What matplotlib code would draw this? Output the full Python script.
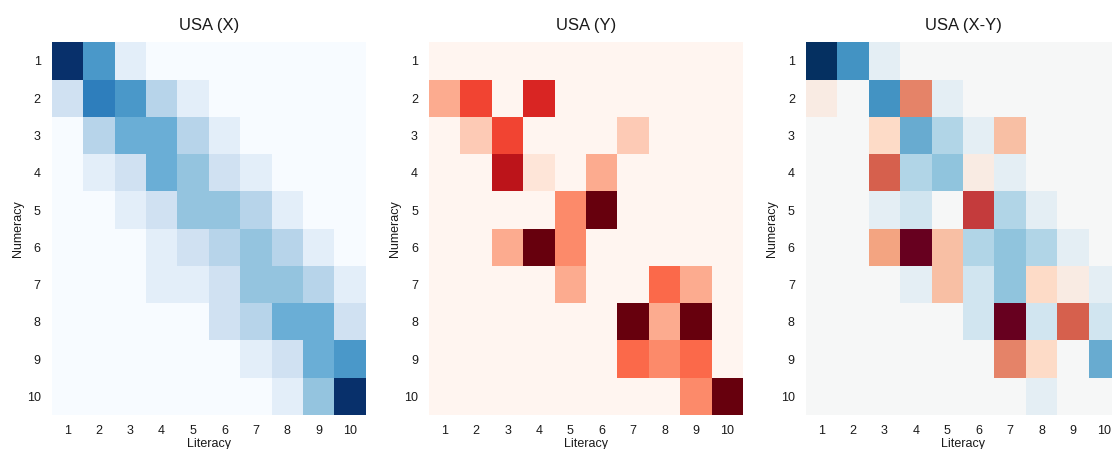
import numpy as np
import matplotlib
matplotlib.use("Agg")
import matplotlib.pyplot as plt

plt.rcParams['font.family'] = ['Liberation Sans', 'DejaVu Sans']

labels = [str(i) for i in range(1, 11)]

usa_x = np.array([
    [1.0, 0.6, 0.1, 0.0, 0.0, 0.0, 0.0, 0.0, 0.0, 0.0],
    [0.2, 0.7, 0.6, 0.3, 0.1, 0.0, 0.0, 0.0, 0.0, 0.0],
    [0.0, 0.3, 0.5, 0.5, 0.3, 0.1, 0.0, 0.0, 0.0, 0.0],
    [0.0, 0.1, 0.2, 0.5, 0.4, 0.2, 0.1, 0.0, 0.0, 0.0],
    [0.0, 0.0, 0.1, 0.2, 0.4, 0.4, 0.3, 0.1, 0.0, 0.0],
    [0.0, 0.0, 0.0, 0.1, 0.2, 0.3, 0.4, 0.3, 0.1, 0.0],
    [0.0, 0.0, 0.0, 0.1, 0.1, 0.2, 0.4, 0.4, 0.3, 0.1],
    [0.0, 0.0, 0.0, 0.0, 0.0, 0.2, 0.3, 0.5, 0.5, 0.2],
    [0.0, 0.0, 0.0, 0.0, 0.0, 0.0, 0.1, 0.2, 0.5, 0.6],
    [0.0, 0.0, 0.0, 0.0, 0.0, 0.0, 0.0, 0.1, 0.4, 1.0],
])

usa_y = np.array([
    [0.0, 0.0, 0.0, 0.0, 0.0, 0.0, 0.0, 0.0, 0.0, 0.0],
    [0.3, 0.6, 0.0, 0.7, 0.0, 0.0, 0.0, 0.0, 0.0, 0.0],
    [0.0, 0.2, 0.6, 0.0, 0.0, 0.0, 0.2, 0.0, 0.0, 0.0],
    [0.0, 0.0, 0.8, 0.1, 0.0, 0.3, 0.0, 0.0, 0.0, 0.0],
    [0.0, 0.0, 0.0, 0.0, 0.4, 1.0, 0.0, 0.0, 0.0, 0.0],
    [0.0, 0.0, 0.3, 1.0, 0.4, 0.0, 0.0, 0.0, 0.0, 0.0],
    [0.0, 0.0, 0.0, 0.0, 0.3, 0.0, 0.0, 0.5, 0.3, 0.0],
    [0.0, 0.0, 0.0, 0.0, 0.0, 0.0, 1.0, 0.3, 1.0, 0.0],
    [0.0, 0.0, 0.0, 0.0, 0.0, 0.0, 0.5, 0.4, 0.5, 0.0],
    [0.0, 0.0, 0.0, 0.0, 0.0, 0.0, 0.0, 0.0, 0.4, 1.0],
])

usa_diff = np.array([
    [1.0, 0.6, 0.1, 0.0, 0.0, 0.0, 0.0, 0.0, 0.0, 0.0],
    [-0.08, 0.0, 0.6, -0.5, 0.1, 0.0, 0.0, 0.0, 0.0, 0.0],
    [0.0, 0.0, -0.2, 0.5, 0.3, 0.1, -0.3, 0.0, 0.0, 0.0],
    [0.0, 0.0, -0.6, 0.3, 0.4, -0.08, 0.1, 0.0, 0.0, 0.0],
    [0.0, 0.0, 0.1, 0.2, 0.0, -0.7, 0.3, 0.1, 0.0, 0.0],
    [0.0, 0.0, -0.4, -1.0, -0.3, 0.3, 0.4, 0.3, 0.1, 0.0],
    [0.0, 0.0, 0.0, 0.1, -0.3, 0.2, 0.4, -0.2, -0.08, 0.1],
    [0.0, 0.0, 0.0, 0.0, 0.0, 0.2, -1.0, 0.2, -0.6, 0.2],
    [0.0, 0.0, 0.0, 0.0, 0.0, 0.0, -0.5, -0.2, 0.0, 0.5],
    [0.0, 0.0, 0.0, 0.0, 0.0, 0.0, 0.0, 0.1, 0.0, 0.0],
])

titles = ["USA (X)", "USA (Y)", "USA (X-Y)"]
data = [usa_x, usa_y, usa_diff]
cmaps = ["Blues", "Reds", "RdBu"]
norms = [(0, 1), (0, 1), (-1, 1)]

fig = plt.figure(figsize=(11.12, 4.49), dpi=100)
lefts = [0.0465, 0.3858, 0.7248]
for i in range(3):
    ax = fig.add_axes([lefts[i], 0.0757, 0.2824, 0.830])
    vmin, vmax = norms[i]
    ax.pcolormesh(np.arange(11), np.arange(11), data[i], cmap=cmaps[i],
                  vmin=vmin, vmax=vmax)
    ax.set_xlim(0, 10)
    ax.set_ylim(10, 0)
    ax.set_xticks(np.arange(10) + 0.5)
    ax.set_xticklabels(labels)
    ax.set_yticks(np.arange(10) + 0.5)
    ax.set_yticklabels(labels)
    ax.tick_params(length=0, labelsize=9, pad=8, colors='#1a1a1a')
    ax.tick_params(axis='x', pad=7.5)
    for s in ax.spines.values():
        s.set_visible(False)
    ax.set_title(titles[i], fontsize=12, pad=9, color='#1a1a1a')
    ax.set_xlabel("Literacy", fontsize=9, labelpad=0.5, color='#1a1a1a')
    ax.set_ylabel("Numeracy", fontsize=9, labelpad=2, color='#1a1a1a')

fig.savefig("out.png", dpi=100)
